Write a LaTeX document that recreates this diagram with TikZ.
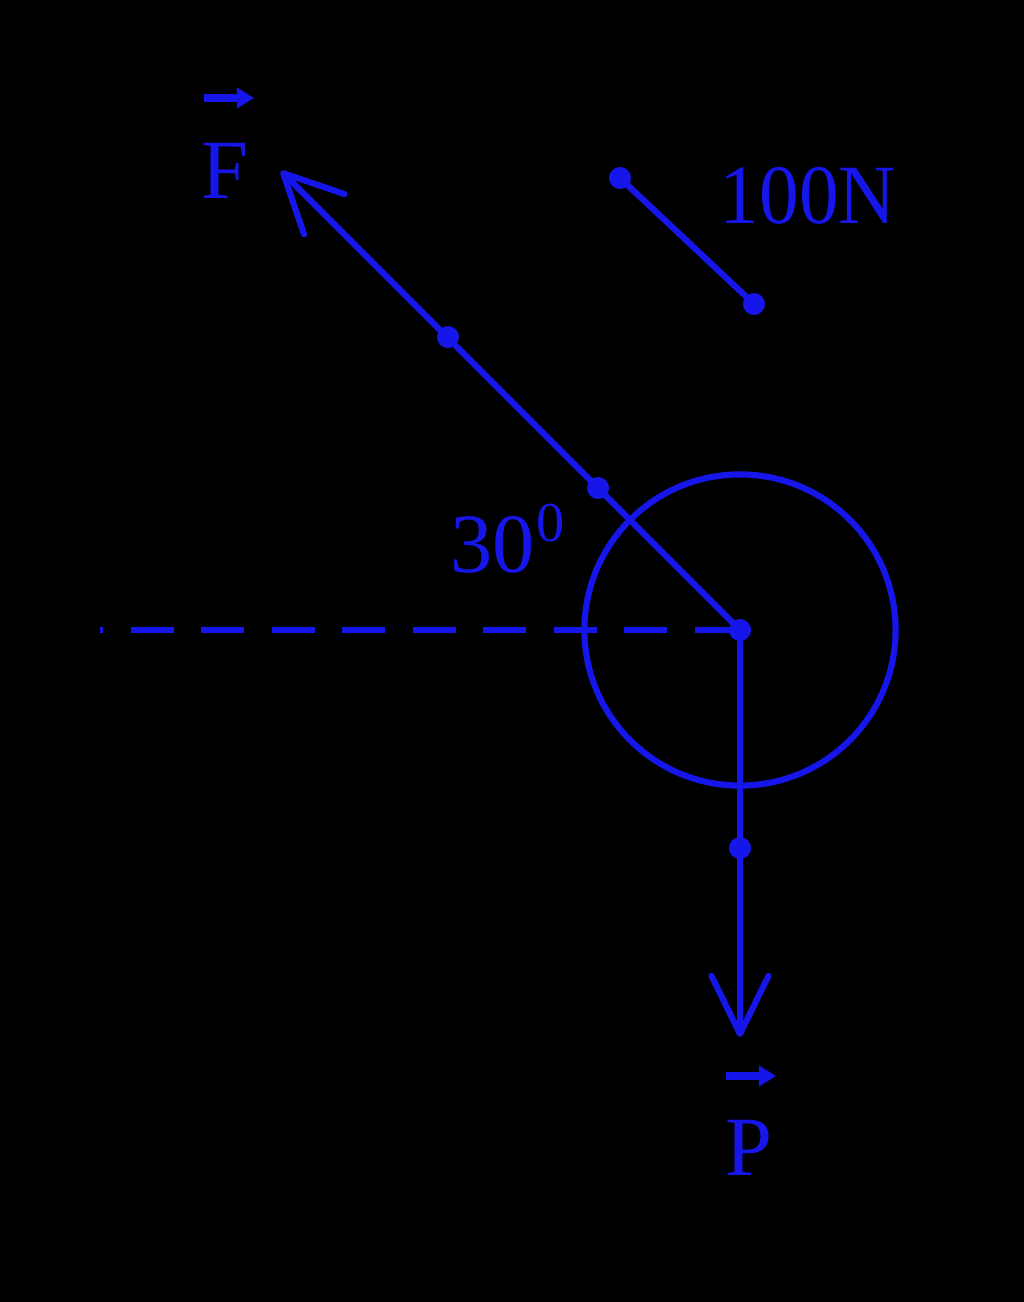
\documentclass[tikz,border=0pt]{standalone}
\usepackage{fontspec}
\setmainfont{Liberation Serif}
\usetikzlibrary{arrows.meta}
\definecolor{fblue}{RGB}{22,22,235}
\begin{document}
\begin{tikzpicture}[x=0.01cm,y=-0.01cm]
\tikzset{
  fline/.style={draw=fblue, line width=1.75pt, line cap=round, line join=round},
  dashline/.style={draw=fblue, line width=1.45pt, dash pattern=on 0.43cm off 0.275cm, dash phase=0.40cm},
  dot/.style={circle, fill=fblue, inner sep=0pt, minimum size=0.22cm},
  lbl/.style={text=fblue, font=\fontsize{24}{28}\selectfont, inner sep=0pt},
  suplbl/.style={text=fblue, font=\fontsize{16}{18}\selectfont, inner sep=0pt},
  barb/.style={-{Straight Barb[length=0.58cm, width=0.57cm, round]}},
  vecarr/.style={draw=fblue, line width=2pt, -{Triangle[length=0.17cm, width=0.2cm]}}
}
\fill[black] (0,0) rectangle (1024,1302);
\useasboundingbox (0,0) rectangle (1024,1302);

% points
\node[dot] (O) at (740,630) {};
\node[dot] (F1) at (598,488) {};
\node[dot] (F2) at (448,337) {};
\coordinate (Ftip) at (281,171);
\node[dot] (P1) at (740,848) {};
\coordinate (Ptip) at (740,1037);
\coordinate (Dend) at (100,630);
\node[dot] (S1) at (620,178) {};
\node[dot] (S2) at (754,304) {};

% body
\draw[fline] (O.center) circle[radius=1.555cm];
\draw[dashline] (Dend) -- (O.center);
\draw[fline, barb] (O.center) -- (Ftip);
\draw[fline, barb] (O.center) -- (Ptip);
\draw[fline] (S1.center) -- (S2.center);

% labels
\node[lbl, anchor=base] (Flab) at (225,198) {F};
\coordinate (FvA) at (204,98);
\coordinate (FvB) at (254,98);
\draw[vecarr] (FvA) -- (FvB);

\node[lbl, anchor=base] (Plab) at (749,1175) {P};
\coordinate (PvA) at (726,1076);
\coordinate (PvB) at (776,1076);
\draw[vecarr] (PvA) -- (PvB);

\node[lbl, anchor=base west] (Slab) at (719,223) {\scalebox{0.94}[1]{100N}};
\node[lbl, anchor=base west] (Alab) at (450,572) {30};
\node[suplbl, anchor=base west] (Asup) at (Alab.base east) [yshift=0.3cm] {0};
\end{tikzpicture}
\end{document}
